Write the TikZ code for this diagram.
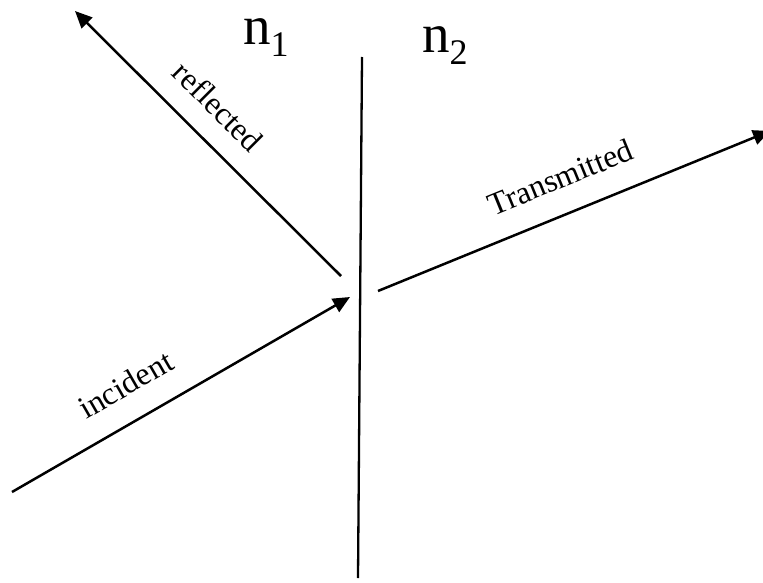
\documentclass[tikz,border=0pt]{standalone}
\usepackage{fontspec}
\setmainfont{Liberation Serif}
\usetikzlibrary{arrows.meta}

\newcommand{\medium}[1]{n\raisebox{-12pt}{\fontsize{36}{36}\selectfont #1}}

\begin{document}
\begin{tikzpicture}[
    x=1pt, y=-1pt,
    ray/.style={-{Triangle[length=17pt,width=15pt]}, line width=2.5pt},
    boundary/.style={line width=2.3pt},
    lbl/.style={sloped, inner sep=0pt, font=\fontsize{32}{36}\selectfont},
    medium/.style={anchor=base west, inner sep=0pt, font=\fontsize{55}{60}\selectfont}
]
    \useasboundingbox (0,0) rectangle (763,583);
    % interface between the two media
    \coordinate (top) at (362,57);
    \coordinate (bottom) at (358,578);
    \draw[boundary] (top) -- (bottom);
    \node (n1) [medium] at (243,45) {\medium{1}};
    \node (n2) [medium] at (422,53) {\medium{2}};
    % rays
    \coordinate (src) at (12,492);
    \coordinate (hit) at (350,297);
    \coordinate (refl) at (341,276);
    \coordinate (reflend) at (75,11);
    \coordinate (trans) at (378,291);
    \coordinate (transend) at (770,131);
    \draw[ray] (src) -- node[lbl, pos=0.39, above=24pt] {incident} (hit);
    \draw[ray] (refl) -- node[lbl, pos=0.55, above=21pt] {reflected} (reflend);
    \draw[ray] (trans) -- node[lbl, pos=0.5, above=24pt] {Transmitted} (transend);
\end{tikzpicture}
\end{document}
